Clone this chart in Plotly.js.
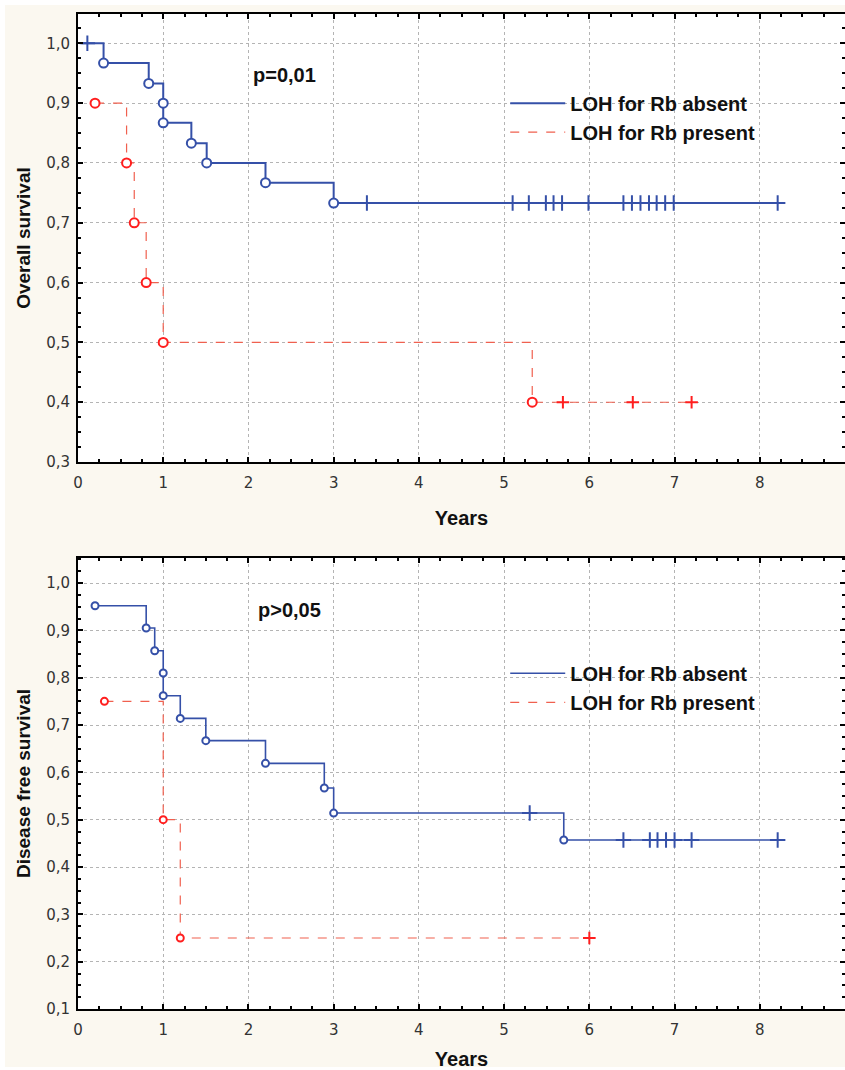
<!DOCTYPE html>
<html>
<head>
<meta charset="utf-8">
<script src="https://cdn.plot.ly/plotly-3.0.1.min.js"></script>
<style>html,body{margin:0;padding:0;background:#ffffff;}#chart{width:845px;height:1070px;}</style>
</head>
<body>
<div id="chart"></div>
<script>
// ---------- Data ----------
// Overall survival, LOH for Rb absent
const osAbsentStart = 0.04;
const osAbsentEventTimes = [0.30, 0.83, 1.00, 1.00, 1.33, 1.51, 2.20, 3.00];
const osAbsentEventSurv  = [0.967, 0.933, 0.900, 0.867, 0.833, 0.800, 0.767, 0.733];
const osAbsentCensorTimes = [0.11, 3.39, 5.10, 5.29, 5.49, 5.58, 5.68, 5.99, 6.40, 6.50, 6.60, 6.70, 6.79, 6.89, 6.99, 8.21];
// Overall survival, LOH for Rb present
const osPresentEventTimes = [0.20, 0.57, 0.66, 0.80, 1.00, 5.33];
const osPresentEventSurv  = [0.90, 0.80, 0.70, 0.60, 0.50, 0.40];
const osPresentCensorTimes = [5.69, 6.51, 7.20];
// Disease free survival, LOH for Rb absent
const dfsAbsentEventTimes = [0.20, 0.80, 0.90, 1.00, 1.00, 1.20, 1.50, 2.20, 2.89, 3.00, 5.70];
const dfsAbsentEventSurv  = [0.952, 0.905, 0.857, 0.810, 0.762, 0.714, 0.667, 0.619, 0.567, 0.514, 0.457];
const dfsAbsentCensorTimes = [5.30, 6.40, 6.71, 6.80, 6.90, 7.00, 7.20, 8.21];
// Disease free survival, LOH for Rb present
const dfsPresentEventTimes = [0.31, 1.00, 1.20];
const dfsPresentEventSurv  = [0.75, 0.50, 0.25];
const dfsPresentCensorTimes = [6.00];

const seriesNames = ["LOH for Rb absent", "LOH for Rb present"];
const yTitles = ["Overall survival", "Disease free survival"];
const xTitle = "Years";
const pLabels = ["p=0,01", "p>0,05"];
const xTickVals = [0,1,2,3,4,5,6,7,8,9];

// ---------- helpers ----------
function survAt(t, times, surv, start, startSurv) {
  let s = startSurv;
  for (let i = 0; i < times.length; i++) { if (times[i] <= t) s = surv[i]; }
  return s;
}
function curve(start, startSurv, times, surv, end) {
  const x = [start], y = [startSurv];
  for (let i = 0; i < times.length; i++) { x.push(times[i]); y.push(surv[i]); }
  x.push(end); y.push(surv[surv.length - 1]);
  return {x, y};
}

const BLUE = '#3550a8';
const RED_LINE = '#f0604f';
const RED_MK = '#ff1e1e';

function series(panel, start, startSurv, times, surv, censors, isAbsent, lw, msize) {
  const xa = panel === 0 ? 'x' : 'x2';
  const ya = panel === 0 ? 'y' : 'y2';
  const end = Math.max(censors[censors.length - 1], times[times.length - 1]);
  const c = curve(start, startSurv, times, surv, end);
  const col = isAbsent ? BLUE : RED_LINE;
  const mcol = isAbsent ? BLUE : RED_MK;
  const legendId = panel === 0 ? 'legend' : 'legend2';
  return [
    { x: c.x, y: c.y, xaxis: xa, yaxis: ya, mode: 'lines', type: 'scatter',
      line: {shape: 'hv', color: col, width: isAbsent ? lw : 1.2, dash: isAbsent ? 'solid' : 'dash'},
      name: isAbsent ? seriesNames[0] : seriesNames[1], legend: legendId, showlegend: true, hoverinfo: 'skip' },
    { x: times, y: surv, xaxis: xa, yaxis: ya, mode: 'markers', type: 'scatter', showlegend: false,
      marker: {symbol: 'circle', size: msize, color: '#ffffff', line: {color: mcol, width: 2}}, hoverinfo: 'x+y' },
    { x: censors, y: censors.map(t => survAt(t, times, surv, start, startSurv)), xaxis: xa, yaxis: ya,
      mode: 'markers', type: 'scatter', showlegend: false,
      marker: {symbol: 'cross-thin', size: isAbsent ? 11 : 9, color: mcol, line: {color: mcol, width: 2}}, hoverinfo: 'x+y' }
  ];
}

const data = [].concat(
  series(0, osAbsentStart, 1.0, osAbsentEventTimes, osAbsentEventSurv, osAbsentCensorTimes, true, 2, 9),
  series(0, osPresentEventTimes[0], osPresentEventSurv[0], osPresentEventTimes, osPresentEventSurv, osPresentCensorTimes, false, 2, 9),
  series(1, dfsAbsentEventTimes[0], dfsAbsentEventSurv[0], dfsAbsentEventTimes, dfsAbsentEventSurv, dfsAbsentCensorTimes, true, 1.6, 7),
  series(1, dfsPresentEventTimes[0], dfsPresentEventSurv[0], dfsPresentEventTimes, dfsPresentEventSurv, dfsPresentCensorTimes, false, 1.6, 7)
);

const FONT = '"Liberation Sans", Arial, sans-serif';
const TICKFONT = '"DejaVu Sans", Verdana, sans-serif';
function xaxisDef(anchor) {
  return {
    anchor: anchor, range: [0, 9], tickvals: xTickVals, ticks: 'inside', ticklen: 5, tickwidth: 2,
    tickcolor: '#000', showline: true, linecolor: '#000', linewidth: 2, mirror: 'ticks',
    showgrid: true, gridcolor: '#b4b4b4', griddash: 'dot', gridwidth: 1, zeroline: false,
    minor: {dtick: 0.25, ticks: 'inside', ticklen: 3, tickwidth: 2, tickcolor: '#000', showgrid: false},
    tickfont: {family: TICKFONT, size: 15, color: '#333'}, ticklabelstandoff: 6,
    title: {text: xTitle, font: {family: FONT, size: 20, color: '#111', weight: 'bold'}, standoff: 20},
    automargin: false, fixedrange: true
  };
}
function yaxisDef(anchor, domain, range, tvals, title) {
  return {
    anchor: anchor, domain: domain, range: range, tickvals: tvals, tickformat: '.1f',
    ticks: 'inside', ticklen: 5, tickwidth: 2, tickcolor: '#000',
    showline: true, linecolor: '#000', linewidth: 2, mirror: 'ticks',
    showgrid: true, gridcolor: '#b4b4b4', griddash: 'dot', gridwidth: 1, zeroline: false,
    minor: {dtick: 0.025, ticks: 'inside', ticklen: 3, tickwidth: 2, tickcolor: '#000', showgrid: false},
    tickfont: {family: TICKFONT, size: 15, color: '#333'}, ticklabelstandoff: 3,
    title: {text: title, font: {family: FONT, size: 19, color: '#111', weight: 'bold'}, standoff: 10},
    automargin: false, fixedrange: true
  };
}
const yTicksTop = [0.3,0.4,0.5,0.6,0.7,0.8,0.9,1.0];
const yTicksBot = [0.1,0.2,0.3,0.4,0.5,0.6,0.7,0.8,0.9,1.0];

const legendFont = {family: FONT, size: 20, color: '#111', weight: 'bold'};
const layout = {
  width: 845, height: 1070,
  margin: {l: 78, r: 0, t: 14, b: 61, pad: 0},
  paper_bgcolor: '#fbf8f0', plot_bgcolor: '#ffffff',
  separators: ', ',
  font: {family: FONT, color: '#222'},
  xaxis: xaxisDef('y'),
  yaxis: yaxisDef('x', [0.5497, 1], [0.3, 1.049], yTicksTop, yTitles[0]),
  xaxis2: xaxisDef('y2'),
  yaxis2: yaxisDef('x2', [0, 0.4533], [0.1, 1.053], yTicksBot, yTitles[1]),
  legend: {x: 0.557, y: 0.93, xanchor: 'left', yanchor: 'top', bgcolor: 'rgba(0,0,0,0)',
           font: legendFont, itemwidth: 55, tracegroupgap: 0},
  legend2: {x: 0.557, y: 0.357, xanchor: 'left', yanchor: 'top', bgcolor: 'rgba(0,0,0,0)',
           font: legendFont, itemwidth: 55, tracegroupgap: 0},
  annotations: [
    {xref: 'x', yref: 'y', x: 2.42, y: 0.947, text: pLabels[0], showarrow: false,
     font: {family: FONT, size: 20, color: '#111', weight: 'bold'}},
    {xref: 'x2', yref: 'y2', x: 2.48, y: 0.944, text: pLabels[1], showarrow: false,
     font: {family: FONT, size: 20, color: '#111', weight: 'bold'}}
  ],
  shapes: [
    {type: 'rect', xref: 'paper', yref: 'paper', x0: -78/767, x1: -73/767, y0: -61/995, y1: 1 + 14/995,
     fillcolor: '#ffffff', line: {width: 0}, layer: 'below'},
    {type: 'rect', xref: 'paper', yref: 'paper', x0: -78/767, x1: 1, y0: 1 + 9/995, y1: 1 + 14/995,
     fillcolor: '#ffffff', line: {width: 0}, layer: 'below'},
    {type: 'rect', xref: 'paper', yref: 'paper', x0: -78/767, x1: 1, y0: -61/995, y1: -58/995,
     fillcolor: '#ffffff', line: {width: 0}, layer: 'below'}
  ],
  showlegend: true
};

Plotly.newPlot('chart', data, layout, {staticPlot: true, displayModeBar: false});
</script>
</body>
</html>
